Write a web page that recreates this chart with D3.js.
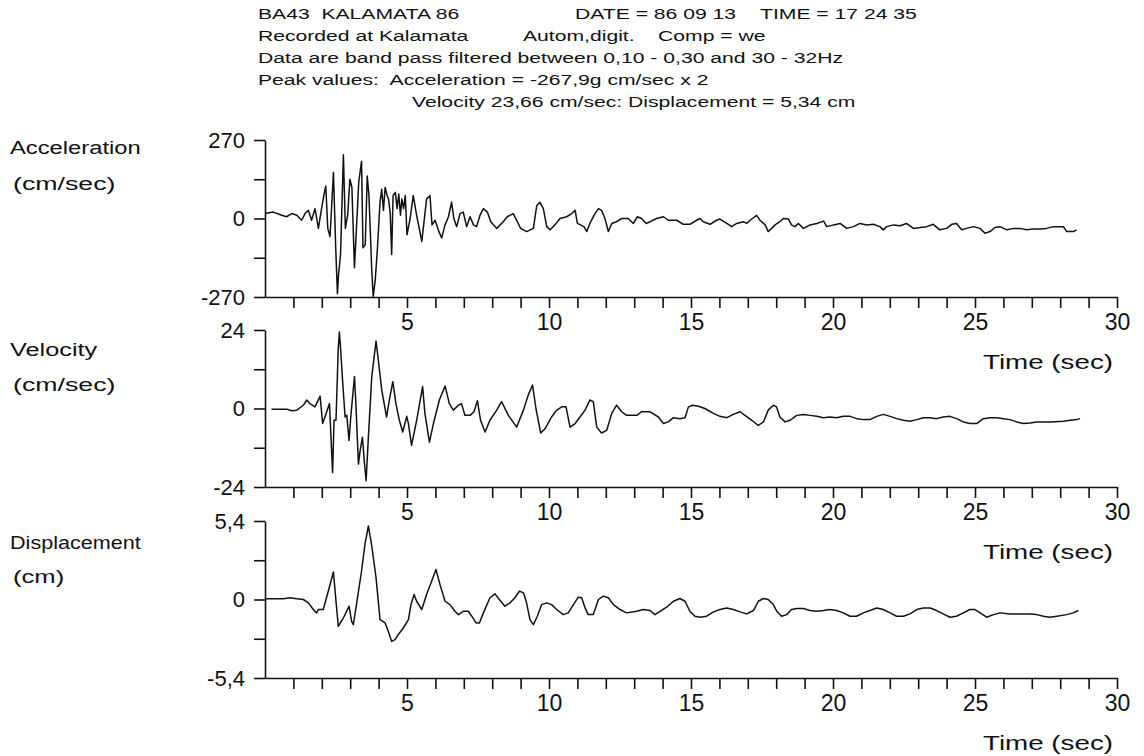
<!DOCTYPE html>
<html>
<head>
<meta charset="utf-8">
<script src="https://d3js.org/d3.v7.min.js"></script>
<style>
body { margin: 0; background: white; }
svg { display: block; }
text { font-family: 'Liberation Sans', Arial, sans-serif; fill: #111; }
</style>
</head>
<body>
<svg id="chart" width="1144" height="756"></svg>
<script>
// header lines of the record
const headerLines = [
  { x: 258, y: 14, text: 'BA43  KALAMATA 86' },
  { x: 575, y: 14, text: 'DATE = 86 09 13' },
  { x: 760, y: 14, text: 'TIME = 17 24 35' },
  { x: 258, y: 36, text: 'Recorded at Kalamata' },
  { x: 523, y: 36, text: 'Autom,digit.    Comp = we' },
  { x: 258, y: 58, text: 'Data are band pass filtered between 0,10 - 0,30 and 30 - 32Hz' },
  { x: 258, y: 80, text: 'Peak values:  Acceleration = -267,9g cm/sec x 2' },
  { x: 412, y: 102, text: 'Velocity 23,66 cm/sec: Displacement = 5,34 cm' }
]
const headerRefWidth = 585   // width of the 'Data are band pass...' line

const panelNames = ['Acceleration', 'Velocity', 'Displacement']
const panelUnits = ['(cm/sec)', '(cm/sec)', '(cm)']
const panelMax = [270, 24, 5.4]
const panelTickLabels = [['270', '0', '-270'], ['24', '0', '-24'], ['5,4', '0', '-5,4']]
const timeTicks = d3.range(1, 31)
const timeLabels = [5, 10, 15, 20, 25, 30]

// acceleration (cm/sec2)
const accT = [0,0.29,0.59,0.76,0.94,1.12,1.29,1.41,1.53,1.64,1.76,1.88,2.00,2.08,2.14,2.21,2.29,2.41,2.49,2.55,2.59,2.66,2.76,2.83,2.91,2.99,3.06,3.15,3.22,3.30,3.40,3.45,3.53,3.60,3.66,3.76,3.81,3.88,3.96,4.05,4.11,4.17,4.23,4.30,4.35,4.41,4.46,4.51,4.59,4.65,4.71,4.77,4.82,4.88,4.94,5.00,5.11,5.22,5.34,5.43,5.52,5.60,5.69,5.81,5.88,5.99,6.10,6.22,6.34,6.46,6.57,6.65,6.75,6.87,6.98,7.10,7.22,7.34,7.45,7.57,7.69,7.83,7.95,8.16,8.39,8.53,8.74,8.86,9.00,9.21,9.45,9.57,9.68,9.80,9.92,10.04,10.21,10.39,10.62,10.80,10.92,11.00,11.11,11.23,11.33,11.44,11.62,11.74,11.85,11.97,12.09,12.21,12.38,12.56,12.79,12.97,13.11,13.26,13.42,13.56,13.79,14.03,14.20,14.50,14.73,14.96,15.20,15.32,15.43,15.67,15.90,16.02,16.26,16.43,16.61,16.84,16.96,17.08,17.31,17.43,17.61,17.72,17.84,17.96,18.13,18.25,18.43,18.54,18.66,18.78,18.96,19.19,19.43,19.67,19.78,20.02,20.25,20.48,20.72,20.95,21.19,21.42,21.65,21.77,21.89,22.13,22.36,22.59,22.83,23.07,23.30,23.53,23.76,24.00,24.18,24.35,24.53,24.70,24.94,25.18,25.35,25.53,25.70,25.88,26.12,26.35,26.58,26.82,27.05,27.29,27.52,27.76,28.11,28.23,28.46,28.58]
const accV = [17,22,11,6,17,11,-6,17,28,-6,34,-34,39,84,112,-34,-62,158,-101,-259,-191,-124,219,-34,11,135,107,-169,-34,124,197,-101,-90,146,79,-180,-268,-214,-101,56,101,28,107,79,67,17,-124,79,90,34,84,11,67,34,79,-56,0,79,11,-34,-79,-11,67,79,-22,-6,-39,-67,-22,6,56,0,-28,17,22,-28,6,-22,-28,11,34,22,-11,-34,-11,6,17,-6,-34,-45,-34,45,56,34,-28,-39,-22,0,6,17,28,-17,-22,-28,-45,-17,17,34,28,0,-45,-17,-11,0,0,-17,6,0,-17,-11,0,6,-6,-6,-20,-20,-6,0,-11,-20,-6,-2,-17,-28,-17,-11,-17,-6,11,-6,-22,-45,-34,-22,-11,0,-2,-22,-28,-17,-34,-22,-17,-9,-28,-22,-17,-34,-28,-17,-22,-20,-28,-39,-28,-22,-25,-17,-34,-31,-28,-20,-39,-34,-20,-17,-39,-34,-28,-34,-51,-45,-31,-28,-39,-34,-34,-39,-36,-36,-34,-28,-28,-45,-45,-39]

// velocity (cm/sec)
const velT = [0.23,0.76,0.94,1.12,1.35,1.47,1.58,1.76,1.94,2.03,2.11,2.27,2.35,2.38,2.43,2.50,2.58,2.62,2.66,2.73,2.82,2.88,2.96,3.02,3.15,3.20,3.29,3.35,3.43,3.50,3.56,3.64,3.76,3.91,3.99,4.11,4.28,4.38,4.50,4.61,4.73,4.85,4.99,5.05,5.16,5.34,5.55,5.63,5.79,5.93,6.14,6.34,6.49,6.63,6.81,6.92,7.04,7.22,7.36,7.48,7.59,7.75,7.92,8.16,8.33,8.57,8.86,9.10,9.27,9.42,9.54,9.71,9.86,10.09,10.27,10.45,10.60,10.74,10.92,11.09,11.27,11.44,11.56,11.68,11.85,12.03,12.21,12.38,12.56,12.73,13.09,13.26,13.56,13.85,14.03,14.20,14.38,14.61,14.79,14.91,15.06,15.26,15.49,15.79,16.02,16.26,16.49,16.73,16.90,17.14,17.37,17.55,17.72,17.90,18.01,18.13,18.31,18.49,18.72,18.96,19.19,19.43,19.66,19.89,20.13,20.36,20.60,20.83,21.07,21.30,21.54,21.77,22.01,22.24,22.48,22.71,22.95,23.18,23.42,23.65,23.88,24.12,24.35,24.59,24.82,25.06,25.29,25.53,25.76,26.00,26.23,26.47,26.70,26.94,27.17,27.64,28.11,28.35,28.58,28.70]
const velV = [-0.2,-0.2,-0.7,-0.5,1.0,2.6,1.5,0.5,3.8,-4.6,-2.6,1.5,-13.9,-19.6,-3.6,-3.6,18.5,23.4,18.5,8.8,-2.6,-2.1,-9.8,-2.6,9.8,1.5,-17.0,-12.9,-8.8,-16.5,-22.1,-8.8,9.8,20.6,14.9,5.7,-2.6,2.6,8.2,1.5,-3.6,-7.2,-2.4,-4.6,-11.3,-3.6,6.7,-1.5,-10.3,-4.6,2.6,6.9,1.5,-0.5,1.0,1.5,-2.1,-2.1,-1.0,2.4,-3.6,-7.2,-3.6,-0.5,2.1,-2.1,-5.7,-0.5,4.1,7.2,0,-7.5,-6.2,-2.6,-0.5,0.5,0.5,-5.7,-4.6,-2.6,-0.5,2.6,2.1,-5.7,-7.5,-6.7,-1.5,1.0,-1.0,-2.1,-2.1,-1.0,-1.0,-2.6,-4.6,-4.1,-2.8,-3.1,-2.8,0.5,1.0,0.7,0,-1.5,-2.4,-2.8,-1.8,-1.0,-2.1,-3.6,-5.2,-4.1,-0.5,1.0,0.5,-2.6,-4.1,-3.6,-2.1,-1.8,-2.1,-2.4,-2.8,-2.6,-2.8,-2.4,-2.4,-3.1,-3.4,-3.4,-2.4,-1.8,-2.4,-3.1,-3.6,-3.9,-3.4,-2.8,-2.8,-3.1,-2.6,-2.4,-3.1,-4.1,-4.6,-4.6,-3.1,-2.8,-2.8,-3.1,-3.4,-4.1,-4.6,-4.4,-4.1,-4.1,-3.9,-3.6,-3.4,-3.1]

// displacement (cm)
const dispT = [0,0.65,0.88,1.12,1.35,1.53,1.70,1.82,1.88,2.05,2.23,2.41,2.50,2.58,2.76,2.96,3.05,3.11,3.23,3.40,3.52,3.64,3.76,3.91,4.05,4.23,4.34,4.46,4.58,4.69,4.87,5.05,5.14,5.25,5.34,5.52,5.69,5.87,6.02,6.16,6.34,6.51,6.69,6.81,6.98,7.16,7.28,7.43,7.55,7.69,7.92,8.10,8.25,8.45,8.63,8.80,8.96,9.10,9.21,9.33,9.45,9.59,9.74,9.92,10.09,10.27,10.50,10.68,10.86,11.03,11.15,11.27,11.38,11.56,11.74,11.91,12.09,12.27,12.50,12.73,13.09,13.32,13.56,13.73,13.91,14.14,14.38,14.61,14.79,14.96,15.14,15.32,15.55,15.79,16.02,16.26,16.49,16.73,16.96,17.20,17.37,17.55,17.72,17.90,18.02,18.19,18.37,18.54,18.72,18.96,19.19,19.43,19.66,19.89,20.13,20.36,20.60,20.83,21.07,21.30,21.54,21.77,22.01,22.24,22.48,22.71,22.95,23.18,23.42,23.65,23.88,24.12,24.35,24.59,24.82,25.00,25.18,25.41,25.65,25.88,26.23,26.58,26.94,27.17,27.41,27.64,27.88,28.23,28.46,28.64]
const dispV = [0.05,0.05,0.12,0.05,0,-0.23,-0.69,-0.92,-0.69,-0.69,0.58,1.89,-0.12,-1.84,-1.27,-0.46,-1.50,-1.73,-0.23,1.96,3.80,5.06,3.68,1.50,-1.38,-1.61,-2.19,-2.88,-2.76,-2.42,-1.96,-1.38,-0.35,0.35,-0.12,-0.69,0.35,1.27,2.07,1.04,-0.12,-0.35,-0.81,-1.04,-0.81,-0.81,-1.15,-1.61,-1.61,-0.92,0.12,0.39,0,-0.46,-0.23,0.12,0.58,0.46,-0.23,-1.38,-1.73,-1.15,-0.35,-0.23,-0.35,-0.69,-1.04,-0.92,-0.35,0.16,0.12,-0.58,-1.04,-1.04,0,0.23,0.12,-0.35,-0.69,-0.92,-0.81,-0.69,-0.76,-1.04,-0.81,-0.53,-0.12,0.07,-0.12,-0.81,-1.15,-1.22,-1.15,-0.85,-0.69,-0.58,-0.69,-0.85,-0.99,-0.76,-0.12,0.07,0,-0.35,-0.81,-1.15,-1.04,-0.69,-0.62,-0.62,-0.76,-0.81,-0.76,-0.69,-0.76,-0.92,-1.15,-1.15,-0.92,-0.76,-0.58,-0.69,-0.92,-1.15,-1.15,-0.99,-0.69,-0.58,-0.58,-0.76,-0.99,-1.22,-1.15,-0.92,-0.69,-0.69,-0.92,-1.22,-1.04,-0.92,-0.99,-0.99,-0.99,-1.04,-1.15,-1.22,-1.15,-1.04,-0.92,-0.76]

const series = [[accT, accV], [velT, velV], [dispT, dispV]]
const panelTop = [140, 330, 521]
const panelHeight = 157
const nameY = [[148, 184], [350, 385], [543, 577]]

const svg = d3.select('#chart')
const x = d3.scaleLinear().domain([0, 30]).range([265, 1117])

// header, stretched evenly so the long line gets its measured width
const head = svg.selectAll('text.head').data(headerLines).enter().append('text')
  .attr('class', 'head')
  .attr('x', d => d.x)
  .attr('y', d => d.y)
  .attr('dy', '0.35em')
  .style('font-size', '14px')
  .style('white-space', 'pre')
  .text(d => d.text)
const natural = head.nodes().map(n => n.getComputedTextLength())
const stretch = headerRefWidth / natural[5]
head.attr('textLength', (d, i) => natural[i] * stretch)
  .attr('lengthAdjust', 'spacingAndGlyphs')

panelNames.forEach((name, i) => {
  const top = panelTop[i]
  const bottom = top + panelHeight
  const m = panelMax[i]
  const y = d3.scaleLinear().domain([-m, m]).range([bottom, top])
  const labels = panelTickLabels[i]
  const g = svg.append('g')

  // left titles
  g.append('text').attr('x', 10).attr('y', nameY[i][0]).attr('dy', '0.35em')
    .style('font-size', '18px').attr('textLength', name.length * 10.9)
    .attr('lengthAdjust', 'spacingAndGlyphs').text(name)
  g.append('text').attr('x', 13).attr('y', nameY[i][1]).attr('dy', '0.35em')
    .style('font-size', '18px').attr('textLength', panelUnits[i].length * 12.8)
    .attr('lengthAdjust', 'spacingAndGlyphs').text(panelUnits[i])

  // y axis
  const yAxis = g.append('g').attr('transform', 'translate(265,0)')
    .call(d3.axisLeft(y)
      .tickValues([-m, -m / 2, 0, m / 2, m])
      .tickSize(11).tickSizeOuter(0).tickPadding(9)
      .tickFormat(d => d === m ? labels[0] : d === 0 ? labels[1] : d === -m ? labels[2] : ''))
  yAxis.selectAll('text').style('font-size', '22px').style('font-family', "'Liberation Sans', Arial, sans-serif").attr('fill', '#111')

  // time axis
  const xAxis = g.append('g').attr('transform', `translate(0,${bottom})`)
    .call(d3.axisBottom(x)
      .tickValues(timeTicks)
      .tickSize(11).tickSizeOuter(0).tickPadding(6)
      .tickFormat(d => timeLabels.includes(d) ? d : ''))
  xAxis.selectAll('text').style('font-size', '23px').style('font-family', "'Liberation Sans', Arial, sans-serif").attr('fill', '#111')
  g.selectAll('.domain, .tick line').attr('stroke', '#111').attr('stroke-width', 1.6)

  g.append('text').attr('x', 1113).attr('y', bottom + 65).attr('dy', '0.35em')
    .attr('text-anchor', 'end').style('font-size', '20px')
    .attr('textLength', 130).attr('lengthAdjust', 'spacingAndGlyphs')
    .text('Time (sec)')

  // trace
  const [ts, vs] = series[i]
  const pts = ts.map((t, k) => [t, vs[k]])
  g.append('path').datum(pts)
    .attr('fill', 'none').attr('stroke', '#111').attr('stroke-width', 1.5)
    .attr('stroke-linejoin', 'round')
    .attr('d', d3.line().x(d => x(d[0])).y(d => y(d[1])))
})
</script>
</body>
</html>
